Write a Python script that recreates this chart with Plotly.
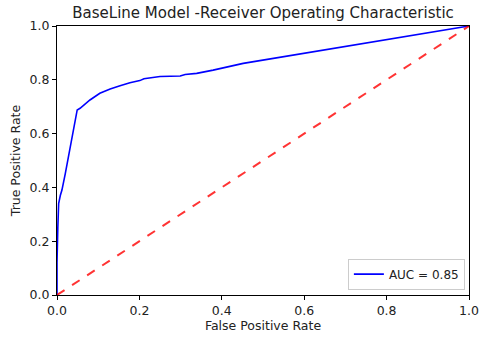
import plotly.graph_objects as go

fpr = [0.0, 0.0, 0.002, 0.004, 0.008, 0.012, 0.02, 0.032, 0.049, 0.056, 0.080, 0.104, 0.129, 0.153,
       0.177, 0.201, 0.211, 0.25, 0.299, 0.311, 0.339, 0.379, 0.412, 0.436, 0.452, 1.0]
tpr = [0.0, 0.12, 0.25, 0.34, 0.37, 0.39, 0.45, 0.545, 0.688, 0.694, 0.725, 0.750, 0.766, 0.778,
       0.789, 0.797, 0.804, 0.812, 0.814, 0.820, 0.824, 0.836, 0.848, 0.857, 0.861, 1.0]
diag = [0, 1]
auc_label = "AUC = 0.85"
ticks = [0.0, 0.2, 0.4, 0.6, 0.8, 1.0]

FONT = "DejaVu Sans"

fig = go.Figure()
fig.add_trace(go.Scatter(x=fpr, y=tpr, mode="lines", name=auc_label,
                         line=dict(color="#0000ff", width=1.6)))
fig.add_trace(go.Scatter(x=diag, y=diag, mode="lines", showlegend=False,
                         line=dict(color="rgba(255,0,0,0.8)", width=2, dash="dash")))

axis_common = dict(range=[0, 1], showgrid=False, zeroline=False, showline=True, mirror=True,
                   linecolor="black", linewidth=1, ticks="outside", ticklen=4, tickcolor="black",
                   tickvals=ticks, tickformat=".1f", automargin=False,
                   tickfont=dict(family=FONT, size=12.5, color="#222222"))

fig.update_layout(
    width=480, height=340,
    margin=dict(l=57, r=11, t=26, b=45),
    paper_bgcolor="white", plot_bgcolor="white",
    title=dict(text="BaseLine Model -Receiver Operating Characteristic", x=0.548, xanchor="center",
               y=0.962, yanchor="middle",
               font=dict(family=FONT, size=15, color="#222222")),
    xaxis=dict(axis_common, title=dict(text="False Positive Rate", standoff=4,
                                       font=dict(family=FONT, size=12.5, color="#222222"))),
    yaxis=dict(axis_common, title=dict(text="True Positive Rate", standoff=6,
                                       font=dict(family=FONT, size=12.5, color="#222222"))),
    legend=dict(x=0.99, y=0.02, xanchor="right", yanchor="bottom",
                bordercolor="#cccccc", borderwidth=1, bgcolor="white",
                font=dict(family=FONT, size=12, color="#222222")),
    showlegend=True,
)

fig.write_html("out.html", config={"displayModeBar": False},
               post_script="document.body.style.margin='0';document.body.style.overflow='hidden';")
